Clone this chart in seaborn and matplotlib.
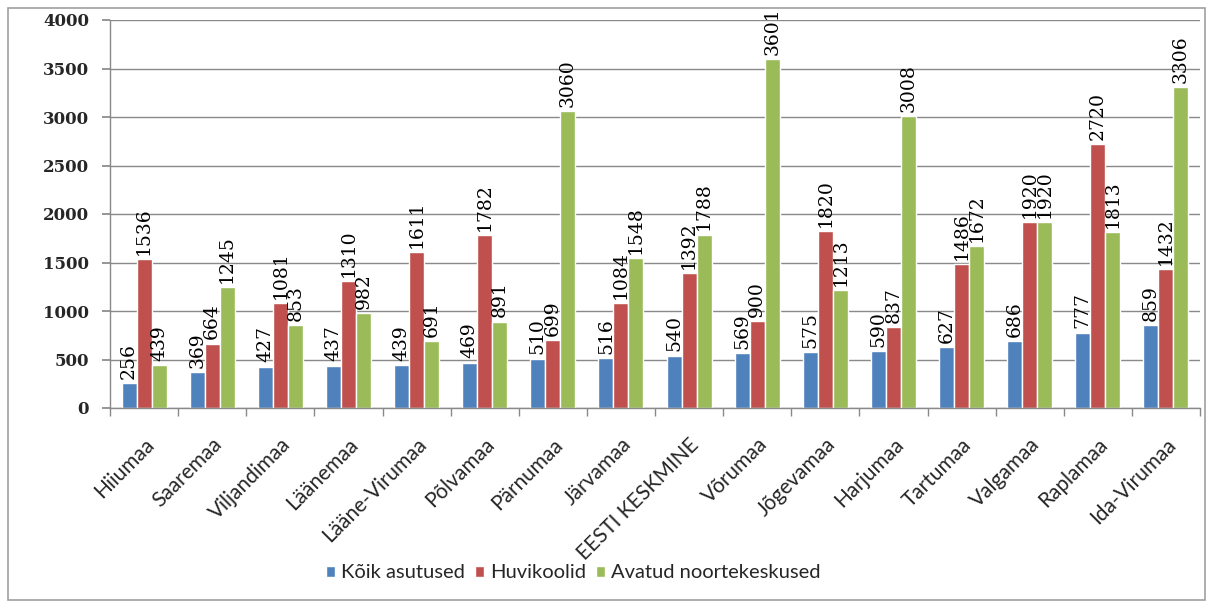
import numpy as np
import pandas as pd
import matplotlib
matplotlib.use("Agg")
import matplotlib.pyplot as plt
import seaborn as sns
from matplotlib.patches import Rectangle
from matplotlib.ticker import FixedLocator

categories = ["Hiiumaa", "Saaremaa", "Viljandimaa", "Läänemaa", "Lääne-Virumaa",
              "Põlvamaa", "Pärnumaa", "Järvamaa", "EESTI KESKMINE", "Võrumaa",
              "Jõgevamaa", "Harjumaa", "Tartumaa", "Valgamaa", "Raplamaa", "Ida-Virumaa"]
koik = [256, 369, 427, 437, 439, 469, 510, 516, 540, 569, 575, 590, 627, 686, 777, 859]
huvikoolid = [1536, 664, 1081, 1310, 1611, 1782, 699, 1084, 1392, 900, 1820, 837, 1486, 1920, 2720, 1432]
noortekeskused = [439, 1245, 853, 982, 691, 891, 3060, 1548, 1788, 3601, 1213, 3008, 1672, 1920, 1813, 3306]
series = ["Kõik asutused", "Huvikoolid", "Avatud noortekeskused"]
colors = ["#4F81BD", "#C0504D", "#9BBB59"]
yticks = [0, 500, 1000, 1500, 2000, 2500, 3000, 3500, 4000]

df = pd.DataFrame({
    "Maakond": categories * 3,
    "Seeria": [series[0]] * 16 + [series[1]] * 16 + [series[2]] * 16,
    "Väärtus": koik + huvikoolid + noortekeskused,
})

sns.set_theme(style="white")
sans = ["Liberation Sans Narrow", "Lato", "DejaVu Sans"]
plt.rcParams["font.family"] = sans

fig = plt.figure(figsize=(12.13, 6.05), dpi=100)
ax = fig.add_axes([110 / 1213, 1 - 408 / 605, 1090 / 1213, 388 / 605])

sns.barplot(data=df, x="Maakond", y="Väärtus", hue="Seeria", palette=colors,
            width=0.66, saturation=1, ax=ax, legend=True, errorbar=None)

for cont in ax.containers:
    ax.bar_label(cont, labels=[f"{int(v)}" for v in cont.datavalues], rotation=90,
                 padding=3, fontsize=13.5, family="DejaVu Serif", color="black")

ax.set_ylim(0, 4000)
ax.set_xlim(-0.5, len(categories) - 0.5)
ax.set_yticks(yticks)
ax.set_yticklabels([str(v) for v in yticks], family="DejaVu Serif",
                   fontweight="bold", fontsize=12)
ax.yaxis.grid(True, color="#898989", linewidth=1)
ax.set_axisbelow(True)
ax.set_xlabel("")
ax.set_ylabel("")
ax.set_xticks(range(len(categories)))
ax.set_xticklabels(categories, rotation=45, ha="right", va="top",
                   rotation_mode="anchor", fontsize=15, family=sans)
ax.tick_params(axis="x", which="major", length=0, pad=19)
ax.xaxis.set_minor_locator(FixedLocator(np.arange(-0.5, len(categories), 1)))
ax.tick_params(axis="x", which="minor", length=6, color="#898989", direction="out", bottom=True)
ax.tick_params(axis="y", length=6, color="#898989", direction="out", left=True, pad=9)
for s in ["top", "right"]:
    ax.spines[s].set_visible(False)
for s in ["left", "bottom"]:
    ax.spines[s].set_color("#898989")
    ax.spines[s].set_linewidth(1)

handles, labels = ax.get_legend_handles_labels()
ax.legend_.remove()
fig.legend(handles, labels, loc="center", bbox_to_anchor=(573 / 1213, 1 - 573 / 605),
           ncol=3, frameon=False, prop={"family": sans, "size": 14.5},
           handlelength=0.45, handleheight=0.45,
           handletextpad=0.3, columnspacing=0.5)

fig.patches.append(Rectangle((8 / 1213, 1 - 600 / 605), 1197 / 1213, 592 / 605,
                             transform=fig.transFigure, fill=False,
                             edgecolor="#a0a0a0", linewidth=1.2))

fig.savefig("out.png", dpi=100)
